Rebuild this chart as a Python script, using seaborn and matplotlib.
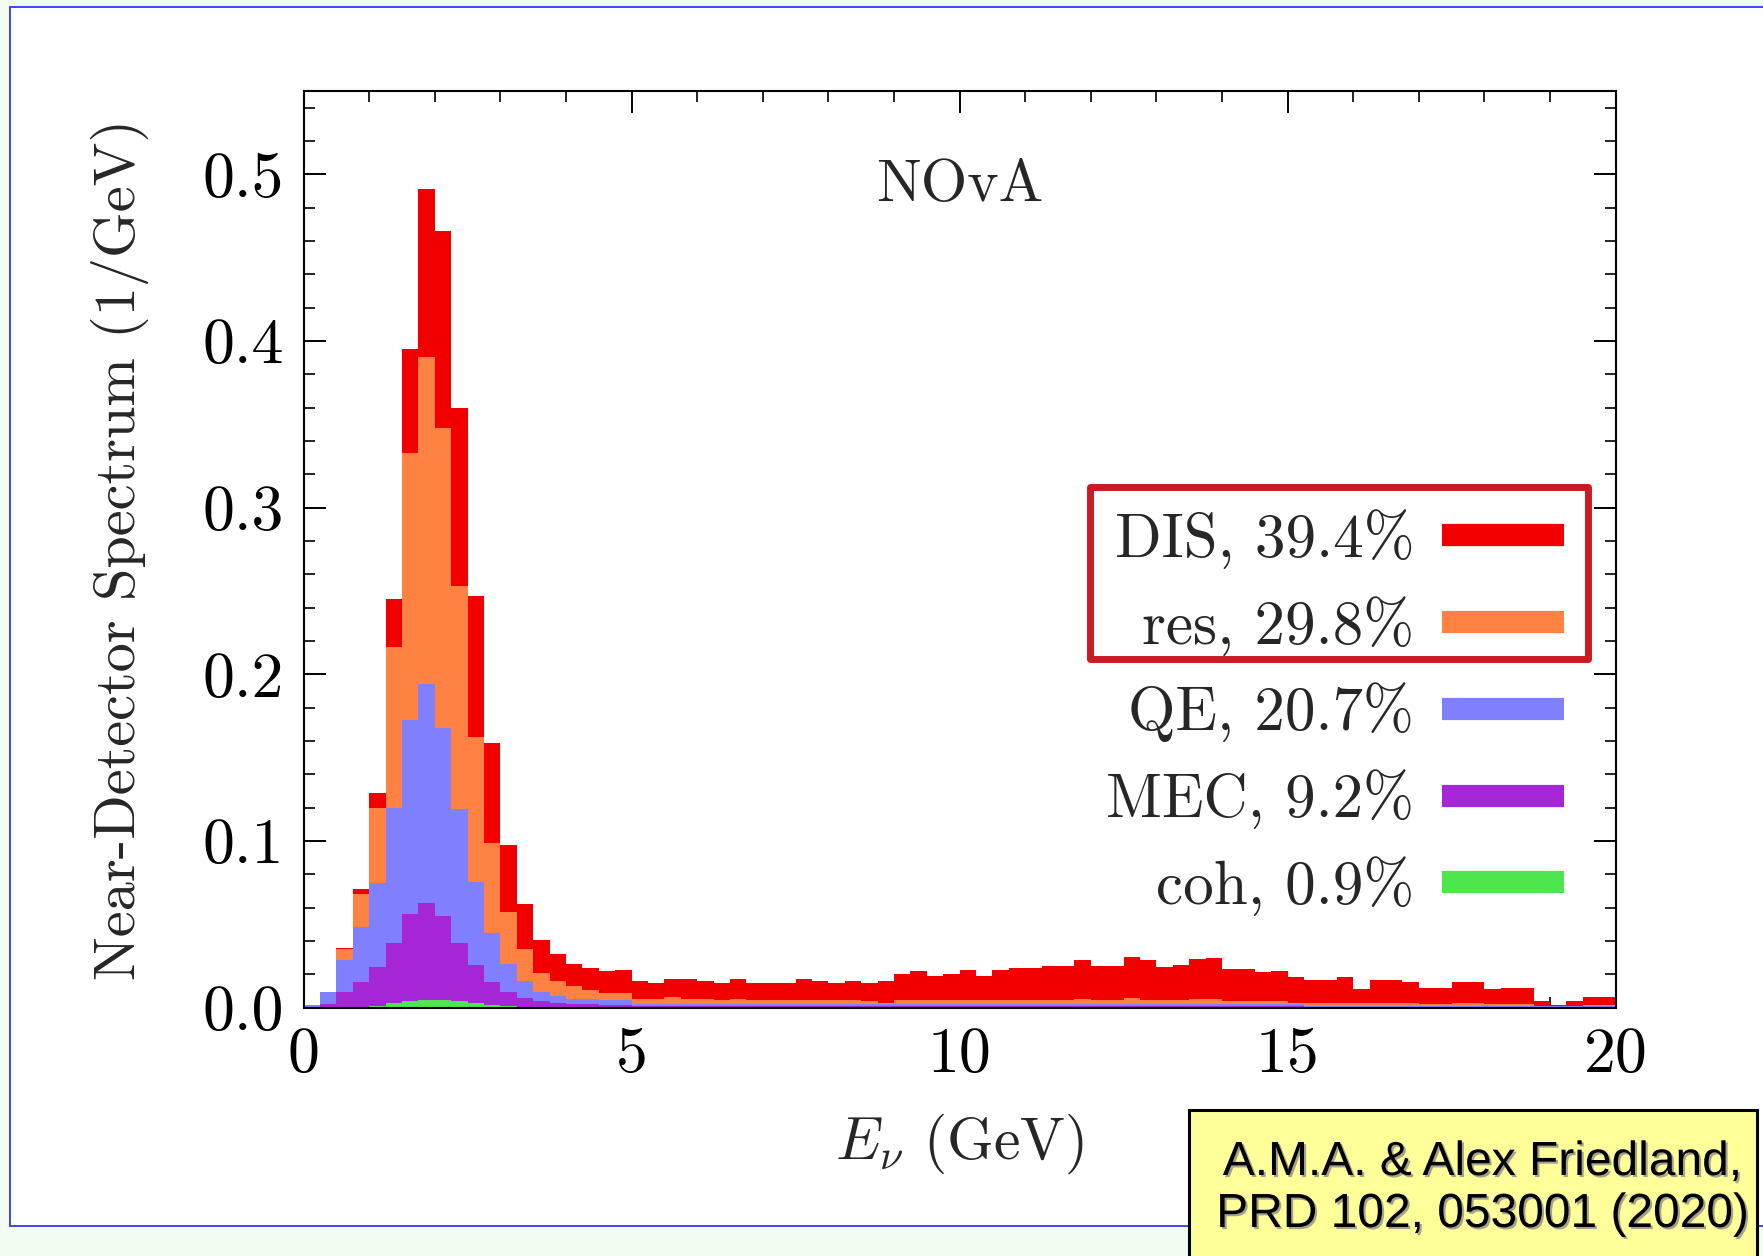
import numpy as np
import pandas as pd
import matplotlib
matplotlib.use("Agg")
import matplotlib.pyplot as plt
import matplotlib.patheffects as pe
from matplotlib.patches import Rectangle
from matplotlib.lines import Line2D
import seaborn as sns

# ---------------- data ----------------
bin_width = 0.25
bin_centers = np.arange(0.125, 20.0, bin_width)

channels = ["DIS", "res", "QE", "MEC", "coh"]
shares = ["39.4%", "29.8%", "20.7%", "9.2%", "0.9%"]
colors = ["#f20000", "#ff8243", "#8080ff", "#a526d6", "#4ee64e"]

coh = [0.0, 0.0, 0.0, 0.0003, 0.001, 0.003, 0.004, 0.0048, 0.0048, 0.004,
       0.0028, 0.0018, 0.0008, 0.0005, 0.0003, 0.0002, 0.0001, 0.0, 0.0, 0.0,
       0.0, 0.0, 0.0, 0.0, 0.0, 0.0, 0.0, 0.0, 0.0, 0.0,
       0.0, 0.0, 0.0, 0.0, 0.0, 0.0, 0.0, 0.0, 0.0, 0.0,
       0.0, 0.0, 0.0, 0.0, 0.0, 0.0, 0.0, 0.0, 0.0, 0.0,
       0.0, 0.0, 0.0, 0.0, 0.0, 0.0, 0.0, 0.0, 0.0, 0.0,
       0.0, 0.0, 0.0, 0.0, 0.0, 0.0, 0.0, 0.0, 0.0, 0.0,
       0.0, 0.0, 0.0, 0.0, 0.0, 0.0, 0.0, 0.0, 0.0, 0.0]

mec = [0.0005, 0.0024, 0.0094, 0.0149, 0.0232, 0.036, 0.052, 0.0582, 0.0502, 0.0349,
       0.0226, 0.0134, 0.0086, 0.0053, 0.0035, 0.0026, 0.0023, 0.002, 0.0018, 0.0016,
       0.0012, 0.0012, 0.0012, 0.0012, 0.0012, 0.0012, 0.0012, 0.0012, 0.0012, 0.0012,
       0.0012, 0.0012, 0.0012, 0.0012, 0.0012, 0.0012, 0.0012, 0.0012, 0.0012, 0.0012,
       0.0012, 0.001, 0.001, 0.001, 0.001, 0.001, 0.001, 0.001, 0.001, 0.001,
       0.001, 0.001, 0.001, 0.001, 0.001, 0.001, 0.001, 0.001, 0.001, 0.001,
       0.001, 0.0006, 0.0006, 0.0006, 0.0006, 0.0006, 0.0006, 0.0006, 0.0006, 0.0006,
       0.0006, 0.0006, 0.0006, 0.0006, 0.0006, 0.0003, 0.0003, 0.0003, 0.0003, 0.0003]

qe = [0.001, 0.007, 0.0194, 0.0333, 0.0508, 0.081, 0.1166, 0.131, 0.113, 0.0801,
      0.0502, 0.0297, 0.017, 0.01, 0.0054, 0.004, 0.003, 0.003, 0.003, 0.0028,
      0.0008, 0.0008, 0.0008, 0.0008, 0.0008, 0.0008, 0.0008, 0.0008, 0.0008, 0.0008,
      0.0008, 0.0008, 0.0008, 0.0008, 0.0008, 0.0008, 0.0008, 0.0008, 0.0008, 0.0008,
      0.0008, 0.001, 0.001, 0.001, 0.001, 0.001, 0.001, 0.001, 0.001, 0.001,
      0.001, 0.001, 0.001, 0.001, 0.001, 0.001, 0.001, 0.001, 0.001, 0.001,
      0.001, 0.0006, 0.0006, 0.0006, 0.0006, 0.0006, 0.0006, 0.0006, 0.0006, 0.0006,
      0.0006, 0.0006, 0.0006, 0.0006, 0.0006, 0.0005, 0.0005, 0.0005, 0.0005, 0.0005]

res = [0.0, 0.0, 0.0061, 0.0195, 0.045, 0.0966, 0.1604, 0.1966, 0.18, 0.134,
       0.0869, 0.0541, 0.0309, 0.0191, 0.0116, 0.0092, 0.0074, 0.0056, 0.0042, 0.0046,
       0.0034, 0.0034, 0.0044, 0.0034, 0.0034, 0.0024, 0.0034, 0.0024, 0.0024, 0.0024,
       0.0024, 0.0024, 0.0024, 0.0024, 0.0018, 0.0008, 0.0024, 0.0024, 0.0024, 0.0024,
       0.0024, 0.0024, 0.0024, 0.0024, 0.0024, 0.0024, 0.0024, 0.0034, 0.0024, 0.0024,
       0.0038, 0.0028, 0.0024, 0.0024, 0.003, 0.003, 0.002, 0.002, 0.002, 0.002,
       0.0006, 0.0014, 0.0014, 0.0014, 0.0014, 0.0018, 0.0018, 0.0018, 0.001, 0.001,
       0.0018, 0.0018, 0.0008, 0.0008, 0.0008, 0.0002, 0.0002, 0.0002, 0.0007, 0.0007]

dis = [0.0, 0.0, 0.001, 0.0033, 0.009, 0.0284, 0.062, 0.1004, 0.118, 0.1066,
       0.0845, 0.06, 0.0403, 0.0272, 0.0195, 0.0163, 0.0132, 0.0134, 0.0128, 0.0138,
       0.0106, 0.0094, 0.0106, 0.0116, 0.0106, 0.0104, 0.0116, 0.0104, 0.0104, 0.0104,
       0.0126, 0.0116, 0.0104, 0.0116, 0.011, 0.0132, 0.016, 0.0174, 0.0148, 0.016,
       0.0184, 0.0148, 0.0184, 0.0194, 0.0194, 0.0206, 0.0206, 0.023, 0.0206, 0.0208,
       0.0248, 0.0238, 0.0198, 0.0212, 0.024, 0.025, 0.0194, 0.0194, 0.0174, 0.018,
       0.016, 0.0138, 0.0138, 0.016, 0.0084, 0.0134, 0.0134, 0.0124, 0.0096, 0.0096,
       0.0124, 0.0124, 0.009, 0.0098, 0.0098, 0.003, 0.0004, 0.003, 0.0049, 0.0049]

series = {"DIS": dis, "res": res, "QE": qe, "MEC": mec, "coh": coh}
df = pd.concat(
    [pd.DataFrame({"energy": bin_centers, "value": vals, "channel": ch})
     for ch, vals in series.items()],
    ignore_index=True,
)

# ---------------- style ----------------
sns.set_style("ticks")
plt.rcParams["font.family"] = ["cmr10", "DejaVu Serif"]
plt.rcParams["mathtext.fontset"] = "cm"
plt.rcParams["axes.unicode_minus"] = False
plt.rcParams["axes.formatter.use_mathtext"] = True
plt.rcParams["axes.linewidth"] = 1.5

W, H = 1763, 1256
fig = plt.figure(figsize=(W / 100, H / 100), dpi=100)
fig.patch.set_facecolor("#f0fdf0")

# white page with blue frame
page = Rectangle((10 / W, (H - 1226) / H), 1.2, (1226 - 7) / H,
                 transform=fig.transFigure, facecolor="white",
                 edgecolor="#3535ff", linewidth=1.3, zorder=-5)
fig.add_artist(page)

ax_l, ax_r, ax_t, ax_b = 303.6, 1615.7, 91.0, 1007.5
ax = fig.add_axes([ax_l / W, (H - ax_b) / H, (ax_r - ax_l) / W, (ax_b - ax_t) / H])
ax.set_facecolor("white")

sns.histplot(data=df, x="energy", weights="value", hue="channel",
             hue_order=channels, palette=dict(zip(channels, colors)),
             binwidth=bin_width, binrange=(0, 20), multiple="stack",
             element="step", fill=True, alpha=1.0, linewidth=0,
             legend=False, ax=ax)

ax.set_xlim(0, 20)
ax.set_ylim(0, 0.55)
ax.set_xticks([0, 5, 10, 15, 20])
ax.set_xticklabels(["0", "5", "10", "15", "20"])
ax.set_xticks(np.arange(0, 21, 1), minor=True)
ax.set_yticks([0.0, 0.1, 0.2, 0.3, 0.4, 0.5])
ax.set_yticklabels(["0.0", "0.1", "0.2", "0.3", "0.4", "0.5"])
ax.set_yticks(np.arange(0, 0.551, 0.02), minor=True)
ax.tick_params(which="both", direction="in", top=True, right=True,
               colors="black", labelsize=46)
ax.tick_params(which="major", length=16, width=1.4, pad=14)
ax.tick_params(which="minor", length=8, width=1.2)
for s in ax.spines.values():
    s.set_color("black")
    s.set_linewidth(1.5)

ax.set_xlabel(r"$E_\nu$ (GeV)", fontsize=43)
ax.set_ylabel("Near-Detector Spectrum (1/GeV)", fontsize=42)
ax.xaxis.set_label_coords(0.5, -0.114)
ax.yaxis.set_label_coords(-0.118, 0.5)

ax.text(0.5, 0.896, "NOvA", transform=ax.transAxes, ha="center",
        va="center", fontsize=43)

handles = [Line2D([0], [0], color=c, lw=16, solid_capstyle="butt") for c in colors]
labels = [f"{ch}, {s}" for ch, s in zip(channels, shares)]
ax.legend(handles, labels, loc="center right", bbox_to_anchor=(0.9606, 0.322),
          frameon=False, markerfirst=False, handlelength=2.0,
          handletextpad=0.45, labelspacing=0.44, borderpad=0,
          borderaxespad=0, fontsize=44)

# red box around the first two legend entries
x0 = (1089.5 - ax_l) / (ax_r - ax_l)
x1 = (1587.5 - ax_l) / (ax_r - ax_l)
y0 = (ax_b - 658.5) / (ax_b - ax_t)
y1 = (ax_b - 486.5) / (ax_b - ax_t)
ax.add_patch(Rectangle((x0, y0), x1 - x0, y1 - y0, transform=ax.transAxes,
                       fill=False, edgecolor="#cc1a22", linewidth=5,
                       joinstyle="round", zorder=5))

# yellow citation box
fig.add_artist(Rectangle((1189 / W, -0.05), (1757 - 1189) / W, (H - 1110) / H + 0.05,
                         transform=fig.transFigure, facecolor="#ffff99",
                         edgecolor="black", linewidth=2.2, zorder=10))
shadow = [pe.withSimplePatchShadow(offset=(1.5, -1.5), shadow_rgbFace="#8c8c8c", alpha=0.8)]
for txt, yb in [("A.M.A. & Alex Friedland,", 1175), ("PRD 102, 053001 (2020)", 1227)]:
    t = fig.text(1482 / W, (H - yb) / H, txt, ha="center", va="baseline",
                 fontsize=34.5, family="Liberation Sans", color="black", zorder=11)
    t.set_path_effects(shadow)

fig.savefig("out.png", dpi=100, facecolor=fig.get_facecolor())
